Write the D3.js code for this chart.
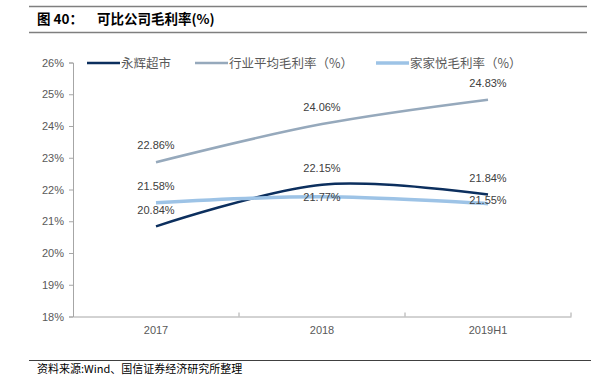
<!DOCTYPE html>
<html>
<head>
<meta charset="utf-8">
<script src="https://cdn.jsdelivr.net/npm/d3@7"></script>
<style>
  body { margin: 0; background: #fff; }
  text { font-family: "Liberation Sans", Arial, sans-serif; }
  .cjk { font-family: "Noto Sans CJK SC", sans-serif; }
</style>
</head>
<body>
<script>
// categories and series
const years = ['2017', '2018', '2019H1'];
const yonghui = [20.84, 22.15, 21.84];
const industry = [22.86, 24.06, 24.83];
const jiajiayue = [21.58, 21.77, 21.55];
const yTicks = [18, 19, 20, 21, 22, 23, 24, 25, 26];

const series = [
  { name: '永辉超市', values: yonghui, color: '#0c2f5e', width: 2.5, dy: [-16, -17, -17] },
  { name: '行业平均毛利率（%）', values: industry, color: '#96a9bc', width: 2.5, dy: [-17, -17, -17] },
  { name: '家家悦毛利率（%）', values: jiajiayue, color: '#9dc3e6', width: 3.5, dy: [-17, 0, -4] }
];

const W = 591, H = 375;
const svg = d3.select('body').append('svg').attr('width', W).attr('height', H);

// title block
svg.append('line').attr('x1', 29).attr('x2', 587).attr('y1', 6.5).attr('y2', 6.5)
  .style('stroke', '#7f7f7f').style('stroke-width', 1.5);
svg.append('line').attr('x1', 29).attr('x2', 587).attr('y1', 32.5).attr('y2', 32.5)
  .style('stroke', '#7f7f7f').style('stroke-width', 1.5);
const title = svg.append('text').attr('class', 'cjk').attr('y', 24)
  .style('font-size', '13.5px').style('font-weight', 'bold').style('fill', '#000');
title.append('tspan').attr('x', 37).text('图 40：');
title.append('tspan').attr('x', 97).text('可比公司毛利率(%)');

// scales
const x = d3.scaleBand().domain(years).range([73, 571]);
const y = d3.scaleLinear().domain([18, 26]).range([316.5, 62.5]);

// y axis
const yAxis = svg.append('g').attr('transform', 'translate(73,0)')
  .call(d3.axisLeft(y).tickValues(yTicks).tickSize(4).tickPadding(5).tickFormat(d => d + '%'));
yAxis.selectAll('path, line').style('stroke', '#a6a6a6');
yAxis.selectAll('text').style('font-size', '11px').style('fill', '#595959')
  .style('font-family', '"Liberation Sans", Arial, sans-serif');

// x axis
const xAxis = svg.append('g').attr('transform', 'translate(0,316.5)')
  .call(d3.axisBottom(x).tickSize(0).tickPadding(10));
xAxis.select('path').style('stroke', '#a6a6a6');
xAxis.selectAll('text').style('font-size', '11px').style('fill', '#595959')
  .style('font-family', '"Liberation Sans", Arial, sans-serif');
// tick marks at band boundaries
xAxis.selectAll('.bound').data(years.slice(1).concat(['end']))
  .enter().append('line')
  .attr('x1', (d, i) => x.range()[0] + x.step() * (i + 1))
  .attr('x2', (d, i) => x.range()[0] + x.step() * (i + 1))
  .attr('y1', 0).attr('y2', -4)
  .style('stroke', '#a6a6a6');

// lines
const line = d3.line()
  .x((d, i) => x(years[i]) + x.bandwidth() / 2)
  .y(d => y(d))
  .curve(d3.curveCardinal.tension(0));

series.forEach(s => {
  svg.append('path')
    .attr('d', line(s.values))
    .style('fill', 'none')
    .style('stroke', s.color)
    .style('stroke-width', s.width);
});

// data labels
series.forEach(s => {
  svg.selectAll(null).data(s.values).enter().append('text')
    .attr('x', (d, i) => x(years[i]) + x.bandwidth() / 2)
    .attr('y', (d, i) => y(d) + s.dy[i] + 4)
    .attr('text-anchor', 'middle')
    .style('font-size', '11px').style('fill', '#404040')
    .text(d => d.toFixed(2) + '%');
});

// legend
const legendX = [87, 195, 376];
series.forEach((s, i) => {
  svg.append('line').attr('x1', legendX[i]).attr('x2', legendX[i] + 33)
    .attr('y1', 63).attr('y2', 63)
    .style('stroke', s.color).style('stroke-width', s.width);
  svg.append('text').attr('class', 'cjk').attr('x', legendX[i] + 34).attr('y', 67.5)
    .style('font-size', '12.5px').style('fill', '#595959')
    .text(s.name);
});

// source
svg.append('line').attr('x1', 29).attr('x2', 591).attr('y1', 360.5).attr('y2', 360.5)
  .style('stroke', '#404040').style('stroke-width', 1);
svg.append('text').attr('class', 'cjk').attr('x', 37).attr('y', 373)
  .style('font-size', '11px').style('fill', '#000')
  .text('资料来源:Wind、国信证券经济研究所整理');
</script>
</body>
</html>
